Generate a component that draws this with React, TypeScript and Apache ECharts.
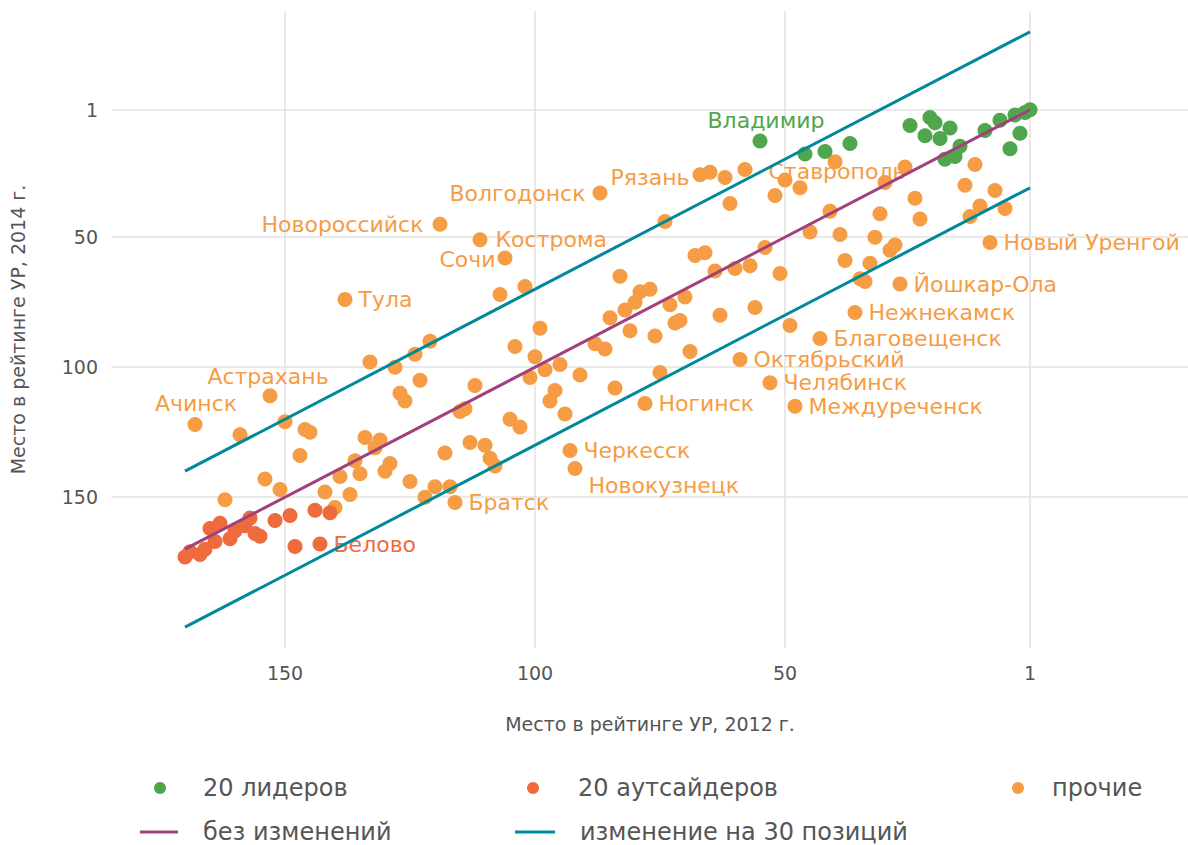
import React, { useEffect, useRef } from 'react';
import * as echarts from 'echarts';

// Tick values of both axes (ranks)
const xTicks = [1, 50, 100, 150];
const yTicks = [1, 50, 100, 150];

// [rank 2012, rank 2014]
const leaders: [number, number][] = [
  [25, 7], [21, 4], [20, 6], [22, 11], [19, 12], [17, 8], [15, 15], [18, 20], [16, 19], [10, 9],
  [7, 5], [4, 3], [2, 2], [1, 1], [3, 10], [5, 16], [46, 18], [42, 17], [37, 14],
];
const leaderCities: [string, number, number][] = [['Владимир', 55, 13]];

const outsiders: [number, number][] = [
  [170, 173], [169, 171], [167, 172], [166, 170], [165, 162], [163, 160], [164, 167], [161, 166],
  [160, 163], [158, 161], [157, 158], [156, 164], [155, 165], [152, 159], [149, 157], [148, 169],
  [144, 155], [141, 156],
];
const outsiderCities: [string, number, number][] = [['Белово', 143, 168]];

const others: [number, number][] = [
  [150, 121], [159, 126], [146, 124], [145, 125], [147, 134], [154, 143], [151, 147], [162, 151],
  [142, 148], [140, 154], [139, 142], [137, 149], [136, 136], [135, 141], [134, 127], [132, 131],
  [131, 128], [130, 140], [129, 137], [125, 144], [122, 150], [120, 146], [118, 133], [117, 146],
  [113, 129], [110, 130], [109, 135], [108, 138], [127, 110], [126, 113], [123, 105], [115, 117],
  [114, 116], [112, 107], [133, 98], [128, 100], [124, 95], [121, 90], [105, 120], [103, 123],
  [65, 25], [62, 27], [50, 28], [47, 31], [52, 34], [61, 37], [74, 44], [107, 72], [102, 69],
  [104, 92], [99, 85], [100, 96], [101, 104], [98, 101], [95, 99], [91, 103], [96, 109], [84, 108],
  [88, 91], [86, 93], [85, 81], [82, 78], [80, 75], [79, 71], [77, 70], [83, 65], [81, 86], [76, 88],
  [73, 76], [70, 73], [72, 83], [71, 82], [69, 94], [75, 102], [68, 57], [66, 56], [64, 63], [60, 62],
  [57, 61], [54, 54], [51, 64], [63, 80], [56, 77], [49, 84], [94, 118], [97, 113],
  [40, 21], [26, 23], [30, 29], [12, 22], [14, 30], [8, 32], [24, 35], [11, 38], [6, 39], [13, 42],
  [23, 43], [31, 41], [41, 40], [45, 48], [39, 49], [32, 50], [28, 53], [29, 55], [38, 59], [33, 60],
  [35, 66], [34, 67],
];
const otherCities: [string, number, number][] = [
  ['Ачинск', 168, 122], ['Астрахань', 153, 111], ['Тула', 138, 74], ['Новороссийск', 119, 45],
  ['Кострома', 111, 51], ['Сочи', 106, 58], ['Волгодонск', 87, 33], ['Рязань', 67, 26],
  ['Ставрополь', 58, 24], ['Новый Уренгой', 9, 52], ['Йошкар-Ола', 27, 68], ['Нежнекамск', 36, 79],
  ['Благовещенск', 43, 89], ['Октябрьский', 59, 97], ['Челябинск', 53, 106], ['Междуреченск', 48, 115],
  ['Ногинск', 78, 114], ['Черкесск', 93, 132], ['Новокузнецк', 92, 139], ['Братск', 116, 152],
];

// reference lines
const noChange: [number, number][] = [[170, 170], [1, 1]];
const up30: [number, number][] = [[170, 140], [1, -29]];
const down30: [number, number][] = [[170, 200], [1, 31]];

const seriesNames = ['20 лидеров', '20 аутсайдеров', 'прочие', 'без изменений', 'изменение на 30 позиций'];

// label placement (style only)
const labelPlace: Record<string, any> = {
  'Владимир': { position: 'top', distance: 2, offset: [6, 0] },
  'Ачинск': { position: 'top', distance: 2, offset: [1, 0] },
  'Астрахань': { position: 'top', distance: 1, offset: [-2, 0] },
  'Новороссийск': { position: 'left', distance: 9 },
  'Сочи': { position: 'left', distance: 2, offset: [0, 1] },
  'Волгодонск': { position: 'left', distance: 7 },
  'Рязань': { position: 'left', distance: 3, offset: [0, 3] },
  'Ставрополь': { position: 'right', distance: 16, offset: [0, 2] },
  'Новокузнецк': { position: 'right', distance: 6, offset: [0, 17] },
  'Кострома': { position: 'right', distance: 8 },
};

const GREEN = '#50a64c';
const RED = '#ee6b3d';
const ORANGE = '#f59c44';
const PURPLE = '#a2407d';
const TEAL = '#00899b';
const FONT = 'DejaVu Sans';

function pts(arr: [number, number][]) {
  return arr.map((p) => ({ value: p }));
}
function cityPts(arr: [string, number, number][], color: string) {
  return arr.map(([name, x, y]) => {
    const pl = labelPlace[name] || { position: 'right', distance: 6 };
    return {
      name,
      value: [x, y],
      label: {
        show: true,
        formatter: name,
        color,
        fontFamily: FONT,
        fontSize: 22,
        position: pl.position,
        distance: pl.distance,
        offset: pl.offset || [0, 0],
      },
    };
  });
}

export default function App() {
  const ref = useRef<HTMLDivElement>(null);
  useEffect(() => {
    if (!ref.current) return;
    const chart = echarts.init(ref.current, null, { renderer: 'svg' });
    const legendText = { fontFamily: FONT, fontSize: 24, color: '#555', lineHeight: 28 };
    const option: any = {
      animation: false,
      backgroundColor: '#fff',
      grid: { left: 112, right: 0, top: 11, bottom: 197, containLabel: false, outerBoundsMode: 'none' },
      xAxis: {
        type: 'value',
        inverse: true,
        min: -30.6,
        max: 184.6,
        name: 'Место в рейтинге УР, 2012 г.',
        nameLocation: 'middle',
        nameGap: 66,
        nameTextStyle: { fontFamily: FONT, fontSize: 19, color: '#555' },
        axisLine: { show: false },
        axisTick: { show: false, customValues: xTicks },
        axisLabel: { customValues: xTicks, fontFamily: FONT, fontSize: 19, color: '#555', margin: 15 },
        splitLine: { show: true, lineStyle: { color: '#e2e2e2', width: 1.5 } },
      },
      yAxis: {
        type: 'value',
        inverse: true,
        min: -37,
        max: 208,
        name: 'Место в рейтинге УР, 2014 г.',
        nameLocation: 'middle',
        nameGap: 85,
        nameTextStyle: { fontFamily: FONT, fontSize: 19, color: '#555' },
        axisLine: { show: false },
        axisTick: { show: false, customValues: yTicks },
        axisLabel: { customValues: yTicks, fontFamily: FONT, fontSize: 19, color: '#555', margin: 14 },
        splitLine: { show: true, lineStyle: { color: '#e2e2e2', width: 1.5 } },
      },
      legend: [
        { data: [seriesNames[0]], left: 154, top: 774, padding: 0, icon: 'circle', itemWidth: 12, itemHeight: 12,
          textStyle: { ...legendText, padding: [0, 0, 0, 32] }, selectedMode: false },
        { data: [seriesNames[1]], left: 527, top: 774, padding: 0, icon: 'circle', itemWidth: 12, itemHeight: 12,
          textStyle: { ...legendText, padding: [0, 0, 0, 34] }, selectedMode: false },
        { data: [seriesNames[2]], left: 1012, top: 774, padding: 0, icon: 'circle', itemWidth: 12, itemHeight: 12,
          textStyle: { ...legendText, padding: [0, 0, 0, 23] }, selectedMode: false },
        { data: [seriesNames[3]], left: 140, top: 818, padding: 0, icon: 'rect', itemWidth: 38, itemHeight: 3,
          textStyle: { ...legendText, padding: [0, 0, 0, 20] }, selectedMode: false },
        { data: [seriesNames[4]], left: 515, top: 818, padding: 0, icon: 'rect', itemWidth: 40, itemHeight: 3,
          textStyle: { ...legendText, padding: [0, 0, 0, 20] }, selectedMode: false },
      ],
      series: [
        { name: seriesNames[3], type: 'line', data: noChange, symbol: 'none', silent: true,
          lineStyle: { color: PURPLE, width: 3 }, itemStyle: { color: PURPLE } },
        { name: seriesNames[4], type: 'line', data: up30, symbol: 'none', silent: true,
          lineStyle: { color: TEAL, width: 3 }, itemStyle: { color: TEAL } },
        { name: seriesNames[4], type: 'line', data: down30, symbol: 'none', silent: true,
          lineStyle: { color: TEAL, width: 3 }, itemStyle: { color: TEAL } },
        { name: seriesNames[2], type: 'scatter', symbolSize: 15, itemStyle: { color: ORANGE, opacity: 1 },
          data: [...pts(others), ...cityPts(otherCities, ORANGE)] },
        { name: seriesNames[1], type: 'scatter', symbolSize: 15, itemStyle: { color: RED, opacity: 1 },
          data: [...pts(outsiders), ...cityPts(outsiderCities, RED)] },
        { name: seriesNames[0], type: 'scatter', symbolSize: 15, itemStyle: { color: GREEN, opacity: 1 },
          data: [...pts(leaders), ...cityPts(leaderCities, GREEN)] },
      ],
    };
    chart.setOption(option);
    return () => chart.dispose();
  }, []);
  return (
    <div
      ref={ref}
      style={{ position: 'fixed', left: 0, top: 0, width: 1188, height: 845, background: '#fff' }}
    />
  );
}
